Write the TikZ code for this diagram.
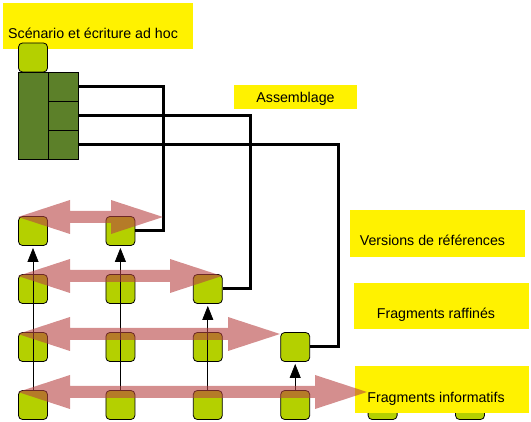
\documentclass[tikz,border=0pt]{standalone}
\usepackage{fontspec}
\setmainfont{Liberation Sans}
\usetikzlibrary{arrows.meta}
\definecolor{leaf}{RGB}{180,208,0}
\definecolor{moss}{RGB}{92,128,41}
\definecolor{rose}{RGB}{183,67,67}
\def\bigarrow#1#2#3{(#2,#1) -- ({#2+52},{#1-17}) -- ({#2+52},{#1-6}) -- ({#3-52},{#1-6}) -- ({#3-52},{#1-17}) -- (#3,#1) -- ({#3-52},{#1+17}) -- ({#3-52},{#1+6}) -- ({#2+52},{#1+6}) -- ({#2+52},{#1+17}) -- cycle}

\begin{document}
\begin{tikzpicture}[x=1pt,y=-1pt,
  cell/.style={draw,fill=leaf,rounded corners=4pt,minimum size=29pt,inner sep=0pt,line width=0.8pt},
  part/.style={draw,fill=moss,minimum width=30pt,inner sep=0pt,line width=0.8pt},
  link/.style={line width=3pt},
  up/.style={line width=0.8pt,-{Triangle[length=14pt,width=11pt]},shorten >=2pt},
  lbl/.style={font=\fontsize{14.2}{17}\selectfont,inner sep=0pt}]
\useasboundingbox (0,0) rectangle (531,422);
\fill[yellow] (3,3) rectangle (193,49);
\node[lbl,anchor=base west] (tscen) at (8,39) {Scénario et écriture ad hoc};
% the ad hoc block
\node[cell] (seed) at (33,57.5) {};
\node[part,minimum height=87pt] (blk) at (33,115.5) {};
\node[part,minimum height=29pt] (blk1) at (63,86.5) {};
\node[part,minimum height=29pt] (blk2) at (63,115.5) {};
\node[part,minimum height=29pt] (blk3) at (63,144.5) {};
% fragments, one row per level
\foreach \r/\y/\n in {1/231/2,2/289/3,3/347/4,4/405/6}
  \foreach \c in {1,...,\n}
    \node[cell] (r\r c\c) at ({33+87.4*(\c-1)},\y) {};
\draw[up] (r4c1.north) -- (r1c1.south);
\draw[up] (r4c2.north) -- (r1c2.south);
\draw[up] (r4c3.north) -- (r2c3.south);
\draw[up] (r4c4.north) -- (r3c4.south);
\draw[link] (blk1.east) -| ([xshift=28pt]r1c2.east) -- (r1c2.east);
\draw[link] (blk2.east) -| ([xshift=28pt]r2c3.east) -- (r2c3.east);
\draw[link] (blk3.east) -| ([xshift=28pt]r3c4.east) -- (r3c4.east);
\fill[yellow] (234,85) rectangle (357,109);
\node[lbl,anchor=base] (tasm) at (295.5,102.5) {Assemblage};
\fill[yellow] (350,210) rectangle (525,257);
\node[lbl,anchor=base] (tver) at (432.5,246) {Versions de références};
\fill[yellow] (354,283) rectangle (529,329);
\node[lbl,anchor=base] (traf) at (436,319) {Fragments raffinés};
\fill[yellow] (355,366) rectangle (529,413);
\node[lbl,anchor=base] (tinf) at (436,403) {Fragments informatifs};
\fill[rose,opacity=0.6] \bigarrow{217}{18}{163};
\fill[rose,opacity=0.6] \bigarrow{276}{18}{222};
\fill[rose,opacity=0.6] \bigarrow{334}{18}{280};
\fill[rose,opacity=0.6] \bigarrow{392}{18}{367};
\end{tikzpicture}
\end{document}
